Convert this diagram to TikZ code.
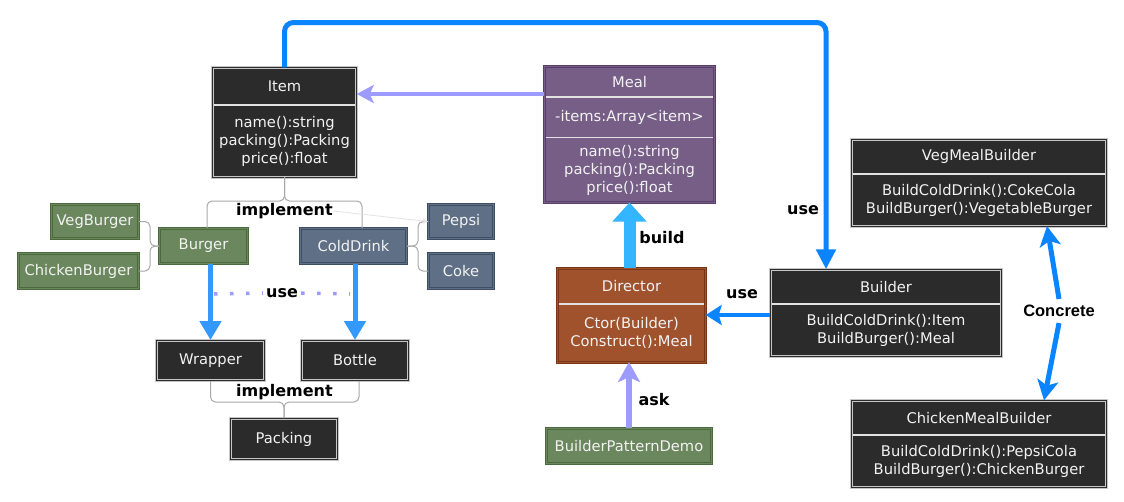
\documentclass[tikz,border=0pt]{standalone}
\usepackage{fontspec}
\setmainfont{DejaVu Sans}
\newfontfamily\arialfont{Liberation Sans}
\usetikzlibrary{arrows.meta}
\usetikzlibrary{positioning}

\definecolor{darkfill}{HTML}{2B2B2B}
\definecolor{darkline}{HTML}{C6C6C6}
\definecolor{greenfill}{HTML}{6B875E}
\definecolor{greenline}{HTML}{4A6A3C}
\definecolor{slatefill}{HTML}{5F7086}
\definecolor{slateline}{HTML}{3F4F63}
\definecolor{mealfill}{HTML}{765E87}
\definecolor{mealline}{HTML}{583E6B}
\definecolor{dirfill}{HTML}{A0522D}
\definecolor{dirline}{HTML}{7A3516}
\definecolor{textlight}{HTML}{F2F2F2}
\definecolor{splitgrey}{HTML}{E2E2E2}
\definecolor{bracegrey}{HTML}{A8A8A8}
\definecolor{faintgrey}{HTML}{E4E4E4}
\definecolor{ublue}{HTML}{0A84FF}
\definecolor{mblue}{HTML}{3399FF}
\definecolor{sky}{HTML}{33B5FF}
\definecolor{lav}{HTML}{9E9BFF}

\tikzset{
  every node/.style={font=\fontsize{14.7}{18}\selectfont, text=textlight,
    inner sep=0pt, align=center},
  box/.style={fill=#1fill, draw=#1line, double=#1fill, double distance=1.2pt, line width=1pt},
  part/.style={fill=#1fill},
  frame/.style={draw=#1line, double=#1fill, double distance=1.2pt, line width=1pt},
  split/.style={draw=splitgrey, line width=1.6pt, shorten <=2pt, shorten >=2pt},
  brace/.style={draw=bracegrey, line width=1pt, rounded corners=5pt},
  lbl/.style={text=black, font=\fontsize{16}{18}\selectfont\bfseries},
  bigblue/.style={draw=ublue, line width=5pt, -{Triangle[length=20pt,width=19pt]}},
  midblue/.style={draw=mblue, line width=5pt, -{Triangle[length=19pt,width=21pt]}},
  buildarr/.style={draw=sky, line width=12pt, -{Triangle[length=19pt,width=33pt]}},
  usedots/.style={draw=lav, line width=3.5pt, dash pattern=on 3.5pt off 12.5pt},
  faint/.style={draw=faintgrey, line width=0.8pt, -{Stealth[length=6pt,width=6pt]}},
  concrete/.style={text=black, inner sep=6pt, font=\arialfont\fontsize{16.5}{18}\selectfont\bfseries},
  cblue/.style={draw=ublue, line width=5pt, -{Stealth[length=20pt,width=21pt,inset=5pt]}}
}

\begin{document}
\begin{tikzpicture}[x=1pt, y=-1pt]
  \path[use as bounding box, fill=white] (0,0) rectangle (1124,501);

  % class boxes
  \node[part=dark, minimum width=144pt, minimum height=37.5pt] (item-h) at (284.5,86.25) {Item};
  \node[part=dark, minimum width=144pt, minimum height=71.5pt, below=0pt of item-h] (item-b)
    {name():string\\packing():Packing\\price():float};

  \node[part=meal, minimum width=170pt, minimum height=30.5pt] (meal-h) at (629.5,81.75) {Meal};
  \node[part=meal, minimum width=170pt, minimum height=40pt, below=0pt of meal-h] (meal-a)
    {-items:Array<item>};
  \node[part=meal, minimum width=170pt, minimum height=64.5pt, below=0pt of meal-a] (meal-m)
    {name():string\\packing():Packing\\price():float};

  \node[part=dir, minimum width=148pt, minimum height=35.5pt] (director-h) at (631.5,286.25) {Director};
  \node[part=dir, minimum width=148pt, minimum height=57.5pt, below=0pt of director-h] (director-b)
    {Ctor(Builder)\\Construct():Meal};

  \node[part=dark, minimum width=231pt, minimum height=34.5pt] (builder-h) at (886,286.75) {Builder};
  \node[part=dark, minimum width=231pt, minimum height=51.5pt, below=0pt of builder-h] (builder-b)
    {BuildColdDrink():Item\\BuildBurger():Meal};

  \node[part=dark, minimum width=255pt, minimum height=34.5pt] (vegmb-h) at (979,156.75) {VegMealBuilder};
  \node[part=dark, minimum width=255pt, minimum height=51.5pt, below=0pt of vegmb-h] (vegmb-b)
    {BuildColdDrink():CokeCola\\BuildBurger():VegetableBurger};

  \node[part=dark, minimum width=255pt, minimum height=34.5pt] (chickmb-h) at (979,417.75) {ChickenMealBuilder};
  \node[part=dark, minimum width=255pt, minimum height=51.5pt, below=0pt of chickmb-h] (chickmb-b)
    {BuildColdDrink():PepsiCola\\BuildBurger():ChickenBurger};

  \foreach \c/\s in {item/dark, director/dir, builder/dark, vegmb/dark, chickmb/dark} {
    \draw[frame=\s] (\c-h.north west) rectangle (\c-b.south east);
    \draw[split] (\c-h.south west) -- (\c-h.south east);
  }
  \draw[frame=meal] (meal-h.north west) rectangle (meal-m.south east);
  \draw[split] (meal-h.south west) -- (meal-h.south east);
  \draw[split] (meal-a.south west) -- (meal-a.south east);

  % plain boxes
  \foreach \n/\t/\x/\y/\w/\h/\s in {
      vegburger/VegBurger/95/221.5/87/34/green,
      chickenburger/ChickenBurger/78.5/271/120/35/green,
      burger/Burger/203.5/246/88/35/green,
      colddrink/ColdDrink/353.5/246/106/35/slate,
      pepsi/Pepsi/461/221.5/65/34/slate,
      coke/Coke/461/271/65/35/slate,
      wrapper/Wrapper/210.5/360.5/108/40/dark,
      bottle/Bottle/355/360.5/107/40/dark,
      packing/Packing/284/439/107/41/dark,
      demo/BuilderPatternDemo/629/446/165/35/green} {
    \node[box=\s, minimum width=\w*1pt, minimum height=\h*1pt] (\n) at (\x,\y) {\t};
  }

  % labels
  \node[lbl] (impl-top) at (284.5,211) {implement};
  \node[lbl, inner sep=3pt] (use-dots) at (282,293) {use};
  \node[lbl] (impl-bot) at (284.5,392) {implement};
  \node[lbl] (build-l) at (662,238) {build};
  \node[lbl] (ask-l) at (654,400) {ask};
  \node[lbl] (use-dir) at (742,294) {use};
  \node[lbl] (use-top) at (803,210) {use};
  \node[concrete] (concrete-l) at (1059,311) {Concrete};

  % braces
  \draw[brace] ([xshift=3.5pt]burger.north) |- (item-b.south |- 0,201) -- (item-b.south);
  \draw[brace] ([xshift=8.5pt]colddrink.north) |- (item-b.south |- 0,201) -- (item-b.south);
  \draw[brace] (wrapper.south) |- (packing.north |- 0,402) -- (packing.north);
  \draw[brace] ([xshift=4pt]bottle.south) |- (packing.north |- 0,402) -- (packing.north);
  \draw[brace] (vegburger.east) -| (burger.west -| 150,0) -- (burger.west);
  \draw[brace] (chickenburger.east) -| (burger.west -| 150,0) -- (burger.west);
  \draw[brace] (colddrink.east) -- (colddrink.east -| 418,0) |- (pepsi.west);
  \draw[brace] (colddrink.east) -- (colddrink.east -| 418,0) |- (coke.west);
  \draw[faint] (impl-top.east) -- (pepsi.west);

  % connectors
  \coordinate (bend) at (826,22.5);
  \draw[bigblue, rounded corners=9pt] (item-h.north) |- (bend) -- (builder-h.north -| bend);
  \draw[draw=lav, line width=3.5pt, -{Stealth[length=17pt,width=18pt,inset=4pt]}]
    (meal-h.west |- 0,94) -- (item-h.east |- 0,94);
  \draw[midblue] (burger.south -| wrapper.north) -- (wrapper.north);
  \draw[midblue] (colddrink.south -| bottle.north) -- (bottle.north);
  \coordinate (dotl) at (214,294);
  \coordinate (dotr) at (350,294);
  \draw[usedots] (dotl) -- (use-dots.west);
  \draw[usedots] (use-dots.east) -- (dotr);
  \draw[buildarr] (meal-m.south |- director-h.north) -- (meal-m.south);
  \draw[draw=lav, line width=5.3pt, -{Stealth[length=20pt,width=22pt,inset=5pt]}]
    (demo.north) -- (director-b.south -| demo.north);
  \draw[draw=ublue, line width=4.5pt, -{Stealth[length=16pt,width=20pt,inset=3pt]}]
    (builder-b.west |- 0,315) -- (director-b.east |- 0,315);
  \draw[cblue] (concrete-l.north) -- (vegmb-b.south -| 1047,0);
  \draw[cblue] (concrete-l.south) -- (chickmb-h.north -| 1044,0);
\end{tikzpicture}
\end{document}
